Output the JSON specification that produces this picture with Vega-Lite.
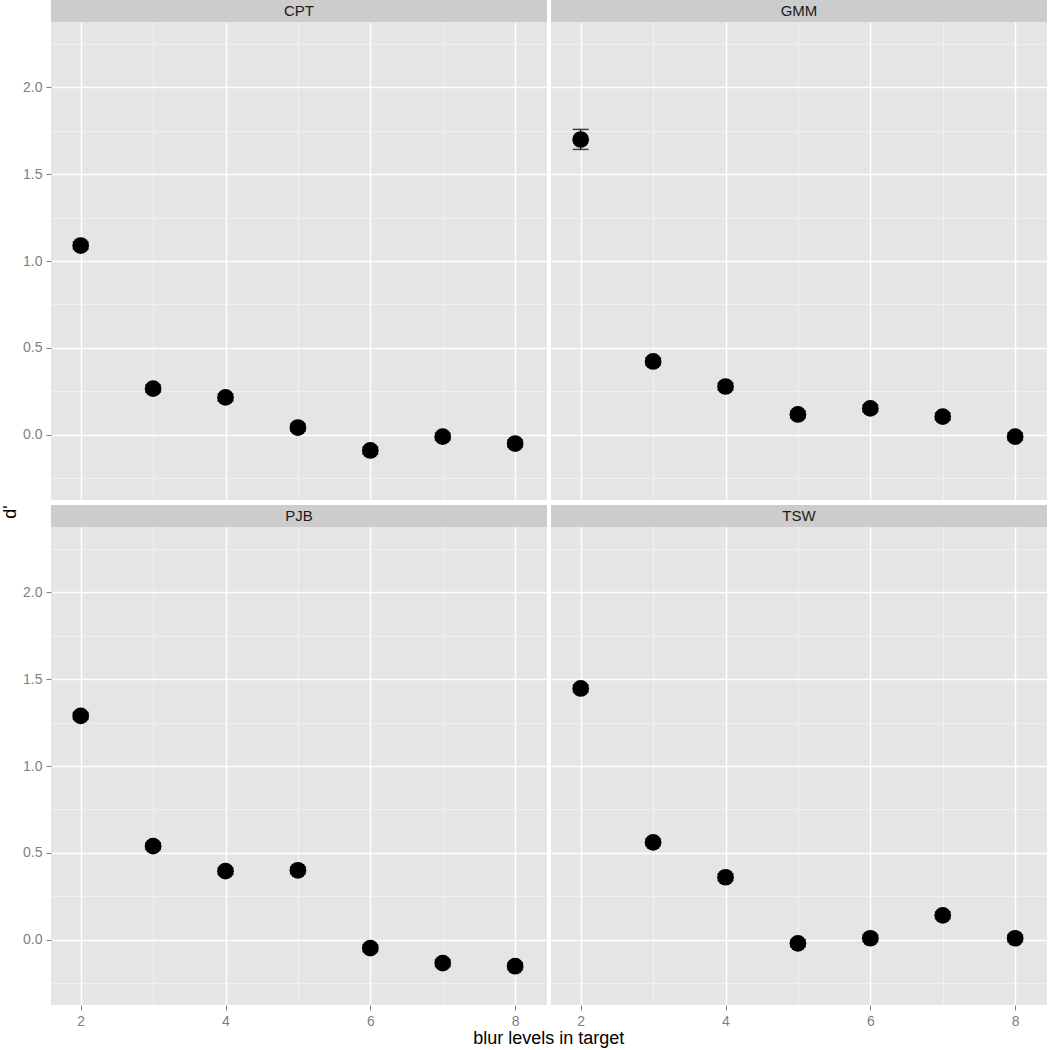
{
  "$schema": "https://vega.github.io/schema/vega-lite/v6.json",
  "background": "white",
  "padding": {"left": 1, "top": 0, "right": 0, "bottom": 0},
  "config": {
    "font": "Liberation Sans",
    "view": {"stroke": null},
    "axis": {"domain": false, "title": null}
  },
  "datasets": {
    "pts": [
      {"panel": "CPT", "blur": 2, "dprime": 1.089, "lo": 1.069, "hi": 1.109},
      {"panel": "CPT", "blur": 3, "dprime": 0.266, "lo": 0.246, "hi": 0.286},
      {"panel": "CPT", "blur": 4, "dprime": 0.215, "lo": 0.195, "hi": 0.235},
      {"panel": "CPT", "blur": 5, "dprime": 0.042, "lo": 0.022, "hi": 0.062},
      {"panel": "CPT", "blur": 6, "dprime": -0.090, "lo": -0.110, "hi": -0.070},
      {"panel": "CPT", "blur": 7, "dprime": -0.010, "lo": -0.030, "hi": 0.010},
      {"panel": "CPT", "blur": 8, "dprime": -0.050, "lo": -0.070, "hi": -0.030},
      {"panel": "GMM", "blur": 2, "dprime": 1.699, "lo": 1.642, "hi": 1.757},
      {"panel": "GMM", "blur": 3, "dprime": 0.422, "lo": 0.402, "hi": 0.442},
      {"panel": "GMM", "blur": 4, "dprime": 0.278, "lo": 0.258, "hi": 0.298},
      {"panel": "GMM", "blur": 5, "dprime": 0.117, "lo": 0.097, "hi": 0.137},
      {"panel": "GMM", "blur": 6, "dprime": 0.152, "lo": 0.132, "hi": 0.172},
      {"panel": "GMM", "blur": 7, "dprime": 0.105, "lo": 0.085, "hi": 0.125},
      {"panel": "GMM", "blur": 8, "dprime": -0.010, "lo": -0.030, "hi": 0.010},
      {"panel": "PJB", "blur": 2, "dprime": 1.288, "lo": 1.268, "hi": 1.308},
      {"panel": "PJB", "blur": 3, "dprime": 0.539, "lo": 0.519, "hi": 0.559},
      {"panel": "PJB", "blur": 4, "dprime": 0.395, "lo": 0.375, "hi": 0.415},
      {"panel": "PJB", "blur": 5, "dprime": 0.400, "lo": 0.380, "hi": 0.420},
      {"panel": "PJB", "blur": 6, "dprime": -0.048, "lo": -0.068, "hi": -0.028},
      {"panel": "PJB", "blur": 7, "dprime": -0.134, "lo": -0.154, "hi": -0.114},
      {"panel": "PJB", "blur": 8, "dprime": -0.152, "lo": -0.172, "hi": -0.132},
      {"panel": "TSW", "blur": 2, "dprime": 1.446, "lo": 1.426, "hi": 1.466},
      {"panel": "TSW", "blur": 3, "dprime": 0.561, "lo": 0.541, "hi": 0.581},
      {"panel": "TSW", "blur": 4, "dprime": 0.360, "lo": 0.340, "hi": 0.380},
      {"panel": "TSW", "blur": 5, "dprime": -0.020, "lo": -0.040, "hi": 0.000},
      {"panel": "TSW", "blur": 6, "dprime": 0.009, "lo": -0.011, "hi": 0.029},
      {"panel": "TSW", "blur": 7, "dprime": 0.141, "lo": 0.121, "hi": 0.161},
      {"panel": "TSW", "blur": 8, "dprime": 0.009, "lo": -0.011, "hi": 0.029}
    ],
    "strips": [{"panel": "CPT"}, {"panel": "GMM"}, {"panel": "PJB"}, {"panel": "TSW"}]
  },
  "title": {"text": "d'", "orient": "left", "anchor": "middle", "fontSize": 18, "fontWeight": "normal", "color": "#000000", "offset": 3, "dx": 12},
  "spacing": 5,
  "vconcat": [
    {
      "spacing": 4,
      "hconcat": [
        {
          "bounds": "flush",
          "spacing": 0,
          "vconcat": [
            {"data": {"name": "strips"}, "transform": [{"filter": "datum.panel == 'CPT'"}], "width": 496, "height": 22, "view": {"fill": "#CCCCCC", "stroke": null}, "mark": {"type": "text", "fontSize": 15, "color": "#1A1A1A"}, "encoding": {"text": {"field": "panel"}}},
            {
              "data": {"name": "pts"}, "transform": [{"filter": "datum.panel == 'CPT'"}],
              "width": 496, "height": 478, "view": {"fill": "#E5E5E5", "stroke": null},
              "encoding": {
                "x": {"field": "blur", "type": "quantitative", "scale": {"domain": [1.59, 8.44], "nice": false, "zero": false},
                  "axis": {"values": [2, 3, 4, 5, 6, 7, 8], "labels": false, "ticks": false, "grid": true,
                    "gridColor": {"condition": {"test": "datum.value % 2 == 1", "value": "#F2F2F2"}, "value": "#FFFFFF"},
                    "gridWidth": {"condition": {"test": "datum.value % 2 == 1", "value": 0.8}, "value": 1.5}}},
                "y": {"field": "dprime", "type": "quantitative", "scale": {"domain": [-0.375, 2.375], "nice": false, "zero": false},
                  "axis": {"values": [-0.25, 0, 0.25, 0.5, 0.75, 1, 1.25, 1.5, 1.75, 2, 2.25], "grid": true,
                    "labelExpr": "datum.value * 2 % 1 == 0 ? format(datum.value, '.1f') : ''",
                    "labelColor": "#7F7F7F", "labelFontSize": 14, "labelPadding": 4, "tickSize": 5, "tickColor": "#7F7F7F", "tickWidth": 1,
                    "tickOpacity": {"condition": {"test": "datum.value * 2 % 1 != 0", "value": 0}, "value": 1},
                    "gridColor": {"condition": {"test": "datum.value * 2 % 1 != 0", "value": "#F2F2F2"}, "value": "#FFFFFF"},
                    "gridWidth": {"condition": {"test": "datum.value * 2 % 1 != 0", "value": 0.8}, "value": 1.5}}}
              },
              "layer": [
                {"mark": {"type": "rule", "color": "#000000", "strokeWidth": 1.2}, "encoding": {"y": {"field": "lo", "type": "quantitative"}, "y2": {"field": "hi"}}},
                {"mark": {"type": "tick", "orient": "horizontal", "color": "#000000", "size": 16, "thickness": 1.5}, "encoding": {"y": {"field": "lo", "type": "quantitative"}}},
                {"mark": {"type": "tick", "orient": "horizontal", "color": "#000000", "size": 16, "thickness": 1.5}, "encoding": {"y": {"field": "hi", "type": "quantitative"}}},
                {"mark": {"type": "circle", "color": "#000000", "opacity": 1, "size": 280}}
              ]
            }
          ]
        },
        {
          "bounds": "flush",
          "spacing": 0,
          "vconcat": [
            {"data": {"name": "strips"}, "transform": [{"filter": "datum.panel == 'GMM'"}], "width": 496, "height": 22, "view": {"fill": "#CCCCCC", "stroke": null}, "mark": {"type": "text", "fontSize": 15, "color": "#1A1A1A"}, "encoding": {"text": {"field": "panel"}}},
            {
              "data": {"name": "pts"}, "transform": [{"filter": "datum.panel == 'GMM'"}],
              "width": 496, "height": 478, "view": {"fill": "#E5E5E5", "stroke": null},
              "encoding": {
                "x": {"field": "blur", "type": "quantitative", "scale": {"domain": [1.59, 8.44], "nice": false, "zero": false},
                  "axis": {"values": [2, 3, 4, 5, 6, 7, 8], "labels": false, "ticks": false, "grid": true,
                    "gridColor": {"condition": {"test": "datum.value % 2 == 1", "value": "#F2F2F2"}, "value": "#FFFFFF"},
                    "gridWidth": {"condition": {"test": "datum.value % 2 == 1", "value": 0.8}, "value": 1.5}}},
                "y": {"field": "dprime", "type": "quantitative", "scale": {"domain": [-0.375, 2.375], "nice": false, "zero": false},
                  "axis": {"values": [-0.25, 0, 0.25, 0.5, 0.75, 1, 1.25, 1.5, 1.75, 2, 2.25], "grid": true, "labels": false, "ticks": false,
                    "gridColor": {"condition": {"test": "datum.value * 2 % 1 != 0", "value": "#F2F2F2"}, "value": "#FFFFFF"},
                    "gridWidth": {"condition": {"test": "datum.value * 2 % 1 != 0", "value": 0.8}, "value": 1.5}}}
              },
              "layer": [
                {"mark": {"type": "rule", "color": "#000000", "strokeWidth": 1.2}, "encoding": {"y": {"field": "lo", "type": "quantitative"}, "y2": {"field": "hi"}}},
                {"mark": {"type": "tick", "orient": "horizontal", "color": "#000000", "size": 16, "thickness": 1.5}, "encoding": {"y": {"field": "lo", "type": "quantitative"}}},
                {"mark": {"type": "tick", "orient": "horizontal", "color": "#000000", "size": 16, "thickness": 1.5}, "encoding": {"y": {"field": "hi", "type": "quantitative"}}},
                {"mark": {"type": "circle", "color": "#000000", "opacity": 1, "size": 280}}
              ]
            }
          ]
        }
      ]
    },
    {
      "spacing": 4,
      "title": {"text": "blur levels in target", "orient": "bottom", "anchor": "middle", "fontSize": 18, "fontWeight": "normal", "color": "#000000", "offset": 2, "dx": 14},
      "hconcat": [
        {
          "bounds": "flush",
          "spacing": 0,
          "vconcat": [
            {"data": {"name": "strips"}, "transform": [{"filter": "datum.panel == 'PJB'"}], "width": 496, "height": 22, "view": {"fill": "#CCCCCC", "stroke": null}, "mark": {"type": "text", "fontSize": 15, "color": "#1A1A1A"}, "encoding": {"text": {"field": "panel"}}},
            {
              "data": {"name": "pts"}, "transform": [{"filter": "datum.panel == 'PJB'"}],
              "width": 496, "height": 478, "view": {"fill": "#E5E5E5", "stroke": null},
              "encoding": {
                "x": {"field": "blur", "type": "quantitative", "scale": {"domain": [1.59, 8.44], "nice": false, "zero": false},
                  "axis": {"values": [2, 3, 4, 5, 6, 7, 8], "grid": true,
                    "labelExpr": "datum.value % 2 == 0 ? datum.label : ''",
                    "labelColor": "#7F7F7F", "labelFontSize": 14, "labelPadding": 4, "tickSize": 5, "tickColor": "#7F7F7F", "tickWidth": 1,
                    "tickOpacity": {"condition": {"test": "datum.value % 2 == 1", "value": 0}, "value": 1},
                    "gridColor": {"condition": {"test": "datum.value % 2 == 1", "value": "#F2F2F2"}, "value": "#FFFFFF"},
                    "gridWidth": {"condition": {"test": "datum.value % 2 == 1", "value": 0.8}, "value": 1.5}}},
                "y": {"field": "dprime", "type": "quantitative", "scale": {"domain": [-0.375, 2.375], "nice": false, "zero": false},
                  "axis": {"values": [-0.25, 0, 0.25, 0.5, 0.75, 1, 1.25, 1.5, 1.75, 2, 2.25], "grid": true,
                    "labelExpr": "datum.value * 2 % 1 == 0 ? format(datum.value, '.1f') : ''",
                    "labelColor": "#7F7F7F", "labelFontSize": 14, "labelPadding": 4, "tickSize": 5, "tickColor": "#7F7F7F", "tickWidth": 1,
                    "tickOpacity": {"condition": {"test": "datum.value * 2 % 1 != 0", "value": 0}, "value": 1},
                    "gridColor": {"condition": {"test": "datum.value * 2 % 1 != 0", "value": "#F2F2F2"}, "value": "#FFFFFF"},
                    "gridWidth": {"condition": {"test": "datum.value * 2 % 1 != 0", "value": 0.8}, "value": 1.5}}}
              },
              "layer": [
                {"mark": {"type": "rule", "color": "#000000", "strokeWidth": 1.2}, "encoding": {"y": {"field": "lo", "type": "quantitative"}, "y2": {"field": "hi"}}},
                {"mark": {"type": "tick", "orient": "horizontal", "color": "#000000", "size": 16, "thickness": 1.5}, "encoding": {"y": {"field": "lo", "type": "quantitative"}}},
                {"mark": {"type": "tick", "orient": "horizontal", "color": "#000000", "size": 16, "thickness": 1.5}, "encoding": {"y": {"field": "hi", "type": "quantitative"}}},
                {"mark": {"type": "circle", "color": "#000000", "opacity": 1, "size": 280}}
              ]
            }
          ]
        },
        {
          "bounds": "flush",
          "spacing": 0,
          "vconcat": [
            {"data": {"name": "strips"}, "transform": [{"filter": "datum.panel == 'TSW'"}], "width": 496, "height": 22, "view": {"fill": "#CCCCCC", "stroke": null}, "mark": {"type": "text", "fontSize": 15, "color": "#1A1A1A"}, "encoding": {"text": {"field": "panel"}}},
            {
              "data": {"name": "pts"}, "transform": [{"filter": "datum.panel == 'TSW'"}],
              "width": 496, "height": 478, "view": {"fill": "#E5E5E5", "stroke": null},
              "encoding": {
                "x": {"field": "blur", "type": "quantitative", "scale": {"domain": [1.59, 8.44], "nice": false, "zero": false},
                  "axis": {"values": [2, 3, 4, 5, 6, 7, 8], "grid": true,
                    "labelExpr": "datum.value % 2 == 0 ? datum.label : ''",
                    "labelColor": "#7F7F7F", "labelFontSize": 14, "labelPadding": 4, "tickSize": 5, "tickColor": "#7F7F7F", "tickWidth": 1,
                    "tickOpacity": {"condition": {"test": "datum.value % 2 == 1", "value": 0}, "value": 1},
                    "gridColor": {"condition": {"test": "datum.value % 2 == 1", "value": "#F2F2F2"}, "value": "#FFFFFF"},
                    "gridWidth": {"condition": {"test": "datum.value % 2 == 1", "value": 0.8}, "value": 1.5}}},
                "y": {"field": "dprime", "type": "quantitative", "scale": {"domain": [-0.375, 2.375], "nice": false, "zero": false},
                  "axis": {"values": [-0.25, 0, 0.25, 0.5, 0.75, 1, 1.25, 1.5, 1.75, 2, 2.25], "grid": true, "labels": false, "ticks": false,
                    "gridColor": {"condition": {"test": "datum.value * 2 % 1 != 0", "value": "#F2F2F2"}, "value": "#FFFFFF"},
                    "gridWidth": {"condition": {"test": "datum.value * 2 % 1 != 0", "value": 0.8}, "value": 1.5}}}
              },
              "layer": [
                {"mark": {"type": "rule", "color": "#000000", "strokeWidth": 1.2}, "encoding": {"y": {"field": "lo", "type": "quantitative"}, "y2": {"field": "hi"}}},
                {"mark": {"type": "tick", "orient": "horizontal", "color": "#000000", "size": 16, "thickness": 1.5}, "encoding": {"y": {"field": "lo", "type": "quantitative"}}},
                {"mark": {"type": "tick", "orient": "horizontal", "color": "#000000", "size": 16, "thickness": 1.5}, "encoding": {"y": {"field": "hi", "type": "quantitative"}}},
                {"mark": {"type": "circle", "color": "#000000", "opacity": 1, "size": 280}}
              ]
            }
          ]
        }
      ]
    }
  ]
}
